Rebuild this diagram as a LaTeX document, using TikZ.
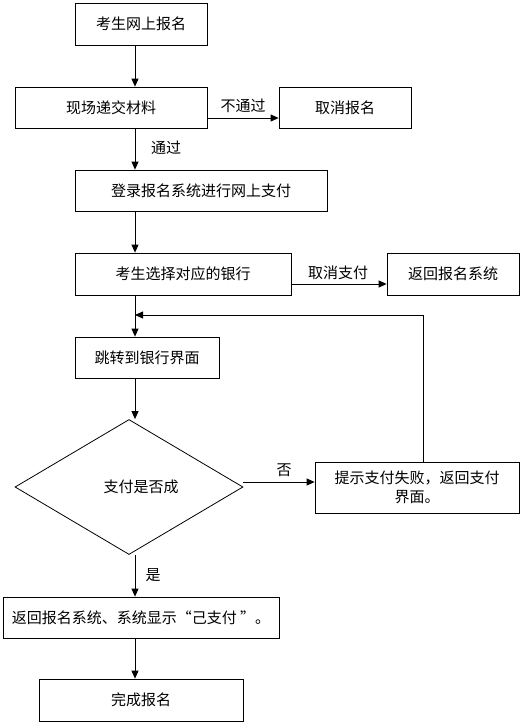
\documentclass[tikz,border=0pt]{standalone}
\usepackage{fontspec}
\setmainfont{Noto Sans CJK SC}
\usetikzlibrary{arrows.meta,shapes.geometric}
\tikzset{
	box/.style={draw,inner sep=0pt,minimum height=41pt},
	arr/.style={-{Triangle[length=8pt,width=7pt]}},
	lab/.style={inner sep=0pt}
}
\begin{document}
\begin{tikzpicture}[x=1pt,y=-1pt,line width=0.8pt,font=\fontsize{15}{19}\selectfont]
	\useasboundingbox (0,0) rectangle (522,725);
	% 主流程
	\node[box,minimum width=132pt,minimum height=42pt] (kaosheng) at (141,24) {考生网上报名};
	\node[box,minimum width=192pt] (xianchang) at (111,107.5) {现场递交材料};
	\node[box,minimum width=132pt] (quxiao) at (345,107.5) {取消报名};
	\node[box,minimum width=252pt] (denglu) at (201,190.5) {登录报名系统进行网上支付};
	\node[box,minimum width=216pt,minimum height=42pt] (yinhang) at (183,274) {考生选择对应的银行};
	\node[box,minimum width=132pt,minimum height=42pt] (fanhui) at (453,274) {返回报名系统};
	\node[box,minimum width=144pt] (tiaozhuan) at (147,357.5) {跳转到银行界面};
	\node[draw,diamond,inner sep=0pt,aspect=1.69,minimum width=228pt,minimum height=135pt] (chenggong) at (129,487) {\hspace*{24pt}支付是否成};
	\node[box,minimum width=204pt,minimum height=51pt,align=center] (shibai) at (417,487.5) {提示支付失败，返回支付\\界面。};
	\node[box,minimum width=276pt] (yizhifu) at (141,617.5) {返回报名系统、系统显示“己支付 ”。};
	\node[box,minimum width=204pt,minimum height=42pt] (wancheng) at (141,700) {完成报名};
	\coordinate (col) at (135,0);
	\coordinate (hui) at (423,315);
	\coordinate (huiru) at (135,315);
	% 连线
	\draw[arr] (kaosheng.south -| col) -- (xianchang.north -| col);
	\draw[arr] ([yshift=-10.5pt]xianchang.east) -- ([yshift=-10.5pt]xianchang.east -| quxiao.west);
	\draw[arr] (xianchang.south -| col) -- (denglu.north -| col);
	\draw[arr] (denglu.south -| col) -- (yinhang.north -| col);
	\draw[arr] ([yshift=-10pt]yinhang.east) -- ([yshift=-10pt]yinhang.east -| fanhui.west);
	\draw[arr] (yinhang.south -| col) -- (tiaozhuan.north -| col);
	\draw[arr] (tiaozhuan.south -| col) -- (chenggong.north -| col);
	\draw[arr] ([yshift=5pt]chenggong.east) -- ([yshift=5pt]chenggong.east -| shibai.west);
	\draw[arr] (shibai.north -| hui) -- (hui) -- (huiru);
	\draw[arr] (chenggong.south -| col) -- (yizhifu.north -| col);
	\draw[arr] (yizhifu.south -| col) -- (wancheng.north -| col);
	% 标签
	\path (243,106)node[lab](butongguo){不通过}
		(166,148)node[lab](tongguo){通过}
		(338,273)node[lab](quxiaozhifu){取消支付}
		(284,470)node[lab](fou){否}
		(153,575)node[lab](shi){是};
\end{tikzpicture}
\end{document}
